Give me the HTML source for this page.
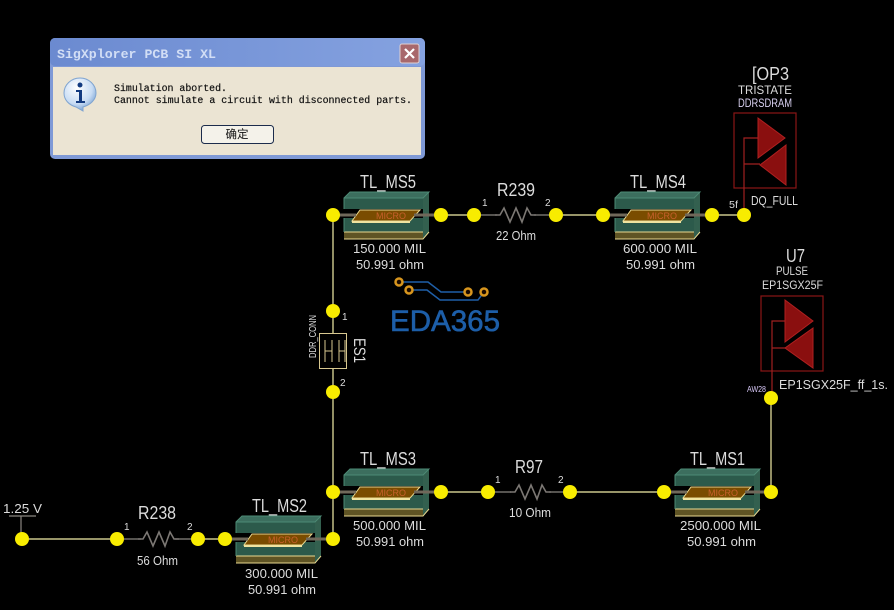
<!DOCTYPE html>
<html>
<head>
<meta charset="utf-8">
<style>
html,body{margin:0;padding:0;background:#000;width:894px;height:610px;overflow:hidden}
svg{display:block}
.l{font-family:"Liberation Sans",sans-serif;fill:#dcdcdc;stroke:none}
.n{font-size:18px}
.v{font-size:13px}
.p{font-size:10px}
.m{font-family:"Liberation Sans",sans-serif;font-size:9px;fill:#c8602c}
.d{font-family:"Liberation Mono",monospace;font-size:10px;fill:#111;stroke:#111;stroke-width:.2px}
</style>
</head>
<body>
<svg width="894" height="610" viewBox="0 0 894 610" xmlns="http://www.w3.org/2000/svg">
<defs>
<linearGradient id="tb" x1="0" y1="0" x2="1" y2="0"><stop offset="0" stop-color="#6b8ad0"/><stop offset="1" stop-color="#85a2e0"/></linearGradient>
<radialGradient id="ic" cx=".4" cy=".3" r=".8"><stop offset="0" stop-color="#ffffff"/><stop offset=".6" stop-color="#c8dcf4"/><stop offset="1" stop-color="#5f8fc8"/></radialGradient>
<g id="tl">
<polygon points="0,6 6,0 85,0 79,6" fill="#3c6e5e"/>
<polygon points="79,6 85,0 85,40 79,47" fill="#33604f"/>
<rect x="0" y="6" width="79" height="41" fill="#2c5a4b"/>
<rect x="0" y="17" width="79" height="9" fill="#000"/>
<rect x="0" y="40" width="79" height="7" fill="#5f5424"/>
<path d="M0 40H79M0 47H79L85 40" fill="none" stroke="#e8d890" stroke-width="1"/>
<path d="M0 6H79L85 0H6L0 6V17M0 26V40" fill="none" stroke="#4d8a75" stroke-width="1"/>
<polygon points="16,18 76,18 66,29 8,29" fill="#7a4c00" stroke="#e8d890" stroke-width="1"/>
<line x1="8" y1="30" x2="66" y2="30" stroke="#f0e4a0" stroke-width="2"/>
<path d="M-6 23H12M70 23H94" stroke="#70685a" stroke-width="3" fill="none"/>
</g>
<g id="res"><polyline points="0,0 5,0 9,-7 15,7 21,-7 27,7 32,-7 36,0 41,0" fill="none" stroke="#7c7874" stroke-width="1.6"/></g>
</defs>

<rect width="894" height="610" fill="#000"/>

<!-- wires -->
<g stroke="#f4eea8" stroke-width="1.2" fill="none">
<path d="M333 215V539"/>
<path d="M771 398V492"/>
<path d="M441 215H474M556 215H603M712 215H744"/>
<path d="M441 492H488M569 492H664"/>
<path d="M22 539H117M198 539H225"/>
</g>
<g stroke="#8a8680" stroke-width="1.2" fill="none">
<path d="M474 215H497M534 215H556M488 492H511M549 492H569M117 539H141M175 539H198"/>
<path d="M21 516V539M9 516H36"/>
</g>

<!-- transmission lines -->
<use href="#tl" x="344" y="192"/>
<use href="#tl" x="615" y="192"/>
<use href="#tl" x="344" y="469"/>
<use href="#tl" x="675" y="469"/>
<use href="#tl" x="236" y="516"/>
<text class="m" x="376" y="219">MICRO</text>
<text class="m" x="647" y="219">MICRO</text>
<text class="m" x="376" y="496">MICRO</text>
<text class="m" x="708" y="496">MICRO</text>
<text class="m" x="268" y="543">MICRO</text>

<!-- resistors -->
<use href="#res" x="495" y="215"/>
<use href="#res" x="510" y="492"/>
<use href="#res" x="138" y="539"/>

<!-- TOP3 driver -->
<g fill="none" stroke="#8a1616" stroke-width="1.2">
<rect x="734" y="113" width="62" height="75"/>
<path d="M758 138H744V213M744 164H760" stroke="#a02020"/>
</g>
<polygon points="758,118 785,138 758,158" fill="#8a0f0f" stroke="#b02020"/>
<polygon points="786,145 760,165 786,185" fill="#8a0f0f" stroke="#b02020"/>

<!-- U7 driver -->
<g fill="none" stroke="#8a1616" stroke-width="1.2">
<rect x="761" y="296" width="62" height="75"/>
<path d="M785 321H772V398M772 348H785" stroke="#a02020"/>
</g>
<polygon points="785,300 813,321 785,342" fill="#8a0f0f" stroke="#b02020"/>
<polygon points="813,328 785,348 813,368" fill="#8a0f0f" stroke="#b02020"/>

<!-- ES1 -->
<rect x="319.500" y="333.500" width="27" height="35" fill="#000" stroke="#d8c890" stroke-width="1"/>
<g stroke="#d8c890" stroke-width="1" fill="none">
<path d="M325 340V362M332 340V362M339 340V362M345 340V362M325 351H332M339 351H345"/>
</g>
<text class="l" font-size="17" transform="translate(354 338) rotate(90)" textLength="25" lengthAdjust="spacingAndGlyphs">ES1</text>
<text class="l" font-size="10" transform="translate(316 358) rotate(-90)" textLength="43" lengthAdjust="spacingAndGlyphs">DDR_CONN</text>

<!-- nodes -->
<g fill="#f8ec00">
<circle cx="333" cy="215" r="7"/><circle cx="441" cy="215" r="7"/>
<circle cx="474" cy="215" r="7"/><circle cx="556" cy="215" r="7"/>
<circle cx="603" cy="215" r="7"/><circle cx="712" cy="215" r="7"/>
<circle cx="744" cy="215" r="7"/>
<circle cx="333" cy="311" r="7"/><circle cx="333" cy="392" r="7"/>
<circle cx="771" cy="398" r="7"/>
<circle cx="333" cy="492" r="7"/><circle cx="441" cy="492" r="7"/>
<circle cx="488" cy="492" r="7"/><circle cx="570" cy="492" r="7"/>
<circle cx="664" cy="492" r="7"/><circle cx="771" cy="492" r="7"/>
<circle cx="22" cy="539" r="7"/><circle cx="117" cy="539" r="7"/>
<circle cx="198" cy="539" r="7"/><circle cx="225" cy="539" r="7"/>
<circle cx="333" cy="539" r="7"/>
</g>

<!-- labels -->
<text class="l n" x="360" y="188" textLength="56" lengthAdjust="spacingAndGlyphs">TL_MS5</text>
<text class="l v" x="353" y="253" textLength="73" lengthAdjust="spacingAndGlyphs">150.000 MIL</text>
<text class="l v" x="356" y="269" textLength="68" lengthAdjust="spacingAndGlyphs">50.991 ohm</text>
<text class="l n" x="630" y="188" textLength="56" lengthAdjust="spacingAndGlyphs">TL_MS4</text>
<text class="l v" x="623" y="253" textLength="74" lengthAdjust="spacingAndGlyphs">600.000 MIL</text>
<text class="l v" x="626" y="269" textLength="69" lengthAdjust="spacingAndGlyphs">50.991 ohm</text>
<text class="l n" x="360" y="465" textLength="56" lengthAdjust="spacingAndGlyphs">TL_MS3</text>
<text class="l v" x="353" y="530" textLength="73" lengthAdjust="spacingAndGlyphs">500.000 MIL</text>
<text class="l v" x="356" y="546" textLength="68" lengthAdjust="spacingAndGlyphs">50.991 ohm</text>
<text class="l n" x="690" y="465" textLength="55" lengthAdjust="spacingAndGlyphs">TL_MS1</text>
<text class="l v" x="680" y="530" textLength="81" lengthAdjust="spacingAndGlyphs">2500.000 MIL</text>
<text class="l v" x="687" y="546" textLength="69" lengthAdjust="spacingAndGlyphs">50.991 ohm</text>
<text class="l n" x="252" y="512" textLength="55" lengthAdjust="spacingAndGlyphs">TL_MS2</text>
<text class="l v" x="245" y="578" textLength="73" lengthAdjust="spacingAndGlyphs">300.000 MIL</text>
<text class="l v" x="248" y="594" textLength="68" lengthAdjust="spacingAndGlyphs">50.991 ohm</text>

<text class="l n" x="497" y="196" textLength="38" lengthAdjust="spacingAndGlyphs">R239</text>
<text class="l v" x="496" y="240" textLength="40" lengthAdjust="spacingAndGlyphs">22 Ohm</text>
<text class="l p" x="482" y="206">1</text><text class="l p" x="545" y="206">2</text>
<text class="l n" x="515" y="473" textLength="28" lengthAdjust="spacingAndGlyphs">R97</text>
<text class="l v" x="509" y="517" textLength="42" lengthAdjust="spacingAndGlyphs">10 Ohm</text>
<text class="l p" x="495" y="483">1</text><text class="l p" x="558" y="483">2</text>
<text class="l n" x="138" y="519" textLength="38" lengthAdjust="spacingAndGlyphs">R238</text>
<text class="l v" x="137" y="565" textLength="41" lengthAdjust="spacingAndGlyphs">56 Ohm</text>
<text class="l p" x="124" y="530">1</text><text class="l p" x="187" y="530">2</text>
<text class="l v" x="3" y="513" textLength="39" lengthAdjust="spacingAndGlyphs">1.25 V</text>

<text class="l n" x="752" y="80" textLength="37" lengthAdjust="spacingAndGlyphs">[OP3</text>
<text class="l" font-size="12" x="738" y="94" textLength="54" lengthAdjust="spacingAndGlyphs">TRISTATE</text>
<text class="l" font-size="12" x="738" y="107" textLength="54" lengthAdjust="spacingAndGlyphs" style="fill:#d8d0f0">DDRSDRAM</text>
<text class="l" font-size="13" x="751" y="205" textLength="47" lengthAdjust="spacingAndGlyphs">DQ_FULL</text>
<text class="l p" x="729" y="208" textLength="9" lengthAdjust="spacingAndGlyphs">5f</text>

<text class="l n" x="786" y="262" textLength="19" lengthAdjust="spacingAndGlyphs">U7</text>
<text class="l" font-size="12" x="776" y="275" textLength="32" lengthAdjust="spacingAndGlyphs">PULSE</text>
<text class="l" font-size="12" x="762" y="289" textLength="61" lengthAdjust="spacingAndGlyphs">EP1SGX25F</text>
<text class="l" font-size="13" x="779" y="389" textLength="109" lengthAdjust="spacingAndGlyphs">EP1SGX25F_ff_1s.</text>
<text class="l" font-size="8" x="747" y="392" textLength="19" lengthAdjust="spacingAndGlyphs" style="fill:#d8c8f8">AW28</text>
<text class="l p" x="342" y="320">1</text><text class="l p" x="340" y="386">2</text>

<!-- EDA365 logo -->
<g fill="none" stroke="#1f5fa8" stroke-width="1.500">
<path d="M399 282H428L441 292H468"/>
<path d="M409 290H427L440 300H478L484 292"/>
</g>
<g fill="#1a0a00" stroke="#d8961e" stroke-width="2.500">
<circle cx="399" cy="282" r="3.500"/><circle cx="409" cy="290" r="3.500"/>
<circle cx="468" cy="292" r="3.500"/><circle cx="484" cy="292" r="3.500"/>
</g>
<text x="390" y="331" font-family="'Liberation Sans',sans-serif" font-size="30" fill="#1d5ea8" stroke="#1d5ea8" stroke-width=".6" textLength="110" lengthAdjust="spacingAndGlyphs">EDA365</text>

<!-- dialog -->
<rect x="50" y="38" width="375" height="121" rx="5" fill="#7f99d6"/>
<rect x="50" y="38" width="375" height="28" rx="5" fill="url(#tb)"/>
<rect x="53" y="67" width="368" height="88" fill="#ebe4d3"/>
<text x="57" y="58" font-family="'Liberation Mono',monospace" font-size="13" font-weight="bold" fill="#d2def5" textLength="159" lengthAdjust="spacingAndGlyphs">SigXplorer PCB SI XL</text>
<rect x="400" y="44" width="19" height="19" rx="2" fill="#a8686c" stroke="#e0d0d0" stroke-width="1"/>
<path d="M405 49L414 58M414 49L405 58" stroke="#fff" stroke-width="2.200"/>
<path d="M80 78C71 78 64 85 64 93C64 100 69 105 76 107L83 111L83 107C90 105 96 100 96 93C96 85 89 78 80 78Z" fill="url(#ic)" stroke="#7fa4d0" stroke-width="1"/>
<circle cx="80" cy="85" r="2.500" fill="#123a80"/>
<path d="M76 90H82V101H85V103H76V101H79V92H76Z" fill="#123a80"/>
<text class="d" x="114" y="91" textLength="113" lengthAdjust="spacingAndGlyphs">Simulation aborted.</text>
<text class="d" x="114" y="103" textLength="298" lengthAdjust="spacingAndGlyphs">Cannot simulate a circuit with disconnected parts.</text>
<rect x="201.500" y="125.500" width="72" height="18" rx="3" fill="#f4f2ea" stroke="#1c2c4c" stroke-width="1"/>
<text x="237" y="138" text-anchor="middle" font-family="'Liberation Sans','Noto Sans CJK SC',sans-serif" font-size="11.500" fill="#111">确定</text>
</svg>
</body>
</html>
